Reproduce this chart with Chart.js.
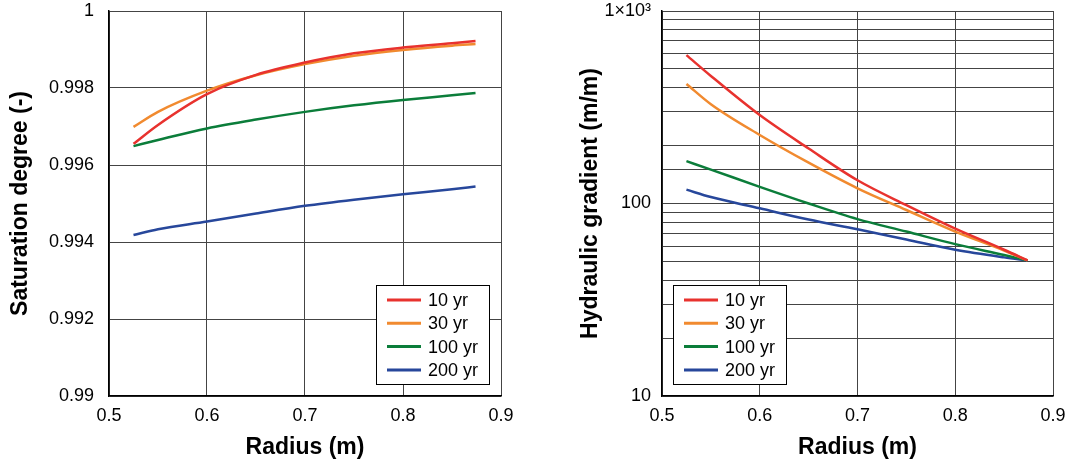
<!DOCTYPE html>
<html>
<head>
<meta charset="utf-8">
<script src="https://cdn.jsdelivr.net/npm/chart.js@4.4.1/dist/chart.umd.min.js"></script>
<style>
  body { margin: 0; background: #fff; }
  #wrap { position: relative; width: 1072px; height: 464px; }
  canvas { position: absolute; top: 0; }
</style>
</head>
<body>
<div id="wrap">
  <canvas id="saturacion" width="536" height="464" style="left:0"></canvas>
  <canvas id="gradiente" width="536" height="464" style="left:536px"></canvas>
</div>
<script>
// radio (m)
const radius = [0.525, 0.55, 0.6, 0.65, 0.7, 0.75, 0.8, 0.85, 0.874];
const seriesLabels = ['10 yr', '30 yr', '100 yr', '200 yr'];
const colors = ['#e8322e', '#f18a2f', '#0b7d3a', '#27479b'];

// grado de saturacion (-)
const sat10 = [0.99655, 0.99704, 0.99784, 0.99834, 0.99866, 0.99890, 0.99905, 0.99916, 0.99922];
const sat30 = [0.99699, 0.99738, 0.99793, 0.99833, 0.99862, 0.99884, 0.99899, 0.99910, 0.99914];
const sat100 = [0.99649, 0.99665, 0.99695, 0.99718, 0.99738, 0.99755, 0.99769, 0.99781, 0.99787];
const sat200 = [0.99418, 0.99433, 0.99453, 0.99474, 0.99494, 0.99510, 0.99524, 0.99537, 0.99544];

// gradiente hidraulico (m/m)
const grad10 = [590, 460, 288, 193, 132, 98, 74, 57.5, 50.6];
const grad30 = [418, 328, 227, 163, 120, 92.5, 71.5, 57, 50.6];
const grad100 = [166, 150, 122, 100, 83, 71.5, 61.5, 54, 50.6];
const grad200 = [118, 108, 94.4, 82.5, 73.5, 65, 57.5, 52.5, 50.6];

const yTicksLeft = [0.99, 0.992, 0.994, 0.996, 0.998, 1];
const xTicks = [0.5, 0.6, 0.7, 0.8, 0.9];

const fam = "'Liberation Sans', Arial, sans-serif";

function mkSets(series) {
  return series.map((s, i) => ({
    label: seriesLabels[i],
    data: radius.map((r, k) => ({ x: r, y: s[k] })),
    borderColor: colors[i],
    backgroundColor: colors[i],
    borderWidth: 2.5,
    pointRadius: 0,
    cubicInterpolationMode: 'monotone',
    fill: false
  }));
}

// leyenda dentro del area del grafico
const boxLegend = {
  id: 'boxLegend',
  afterDraw(chart, args, opts) {
    const ctx = chart.ctx;
    const a = chart.chartArea;
    const w = 113, h = 99;
    const x0 = opts.side === 'right' ? a.right - 12 - w : a.left + 11;
    const y0 = a.bottom - 12 - h;
    ctx.save();
    ctx.fillStyle = '#fff';
    ctx.fillRect(x0, y0, w, h);
    ctx.strokeStyle = '#000';
    ctx.lineWidth = 1;
    ctx.strokeRect(x0 + 0.5, y0 + 0.5, w, h);
    ctx.font = '18px ' + fam;
    ctx.textBaseline = 'middle';
    chart.data.datasets.forEach((ds, i) => {
      const yy = y0 + 15 + i * 23.3;
      ctx.strokeStyle = ds.borderColor;
      ctx.lineWidth = 3;
      ctx.beginPath();
      ctx.moveTo(x0 + 11, yy);
      ctx.lineTo(x0 + 45, yy);
      ctx.stroke();
      ctx.fillStyle = '#000';
      ctx.fillText(ds.label, x0 + 52, yy + 1);
    });
    ctx.restore();
  }
};

function baseX() {
  return {
    type: 'linear', min: 0.5, max: 0.9,
    afterFit: s => { s.height = 68; s.paddingLeft = 0; s.paddingRight = 0; },
    afterBuildTicks: s => { s.ticks = xTicks.map(v => ({ value: v })); },
    grid: { color: '#444', lineWidth: 1, drawTicks: false },
    border: { color: '#000', width: 1.5 },
    ticks: { color: '#000', padding: 9, font: { family: fam, size: 18 },
      callback: v => v.toFixed(1) },
    title: { display: true, text: 'Radius (m)', color: '#000',
      font: { family: fam, size: 23, weight: 'bold' }, padding: { top: 0, bottom: 3 } }
  };
}

function fixY(w) {
  return s => { s.width = w; s.paddingTop = 0; s.paddingBottom = 0; };
}

new Chart(document.getElementById('saturacion'), {
  type: 'line',
  data: { datasets: mkSets([sat10, sat30, sat100, sat200]) },
  options: {
    responsive: false, animation: false, devicePixelRatio: 1,
    layout: { padding: { left: 0, right: 35, top: 11, bottom: 0 } },
    plugins: { legend: { display: false }, tooltip: { enabled: false }, boxLegend: { side: 'right' } },
    scales: {
      x: baseX(),
      y: {
        type: 'linear', min: 0.99, max: 1,
        afterFit: fixY(109),
        afterBuildTicks: s => { s.ticks = yTicksLeft.map(v => ({ value: v })); },
        grid: { color: '#444', lineWidth: 1, drawTicks: false },
        border: { color: '#000', width: 1.5 },
        ticks: { color: '#000', padding: 15, font: { family: fam, size: 18 },
          callback: v => String(Number(v.toFixed(4))) },
        title: { display: true, text: 'Saturation degree (-)', color: '#000',
          font: { family: fam, size: 23, weight: 'bold' }, padding: { top: 7, bottom: 0 } }
      }
    }
  },
  plugins: [boxLegend]
});

new Chart(document.getElementById('gradiente'), {
  type: 'line',
  data: { datasets: mkSets([grad10, grad30, grad100, grad200]) },
  options: {
    responsive: false, animation: false, devicePixelRatio: 1,
    layout: { padding: { left: 0, right: 19, top: 11, bottom: 0 } },
    plugins: { legend: { display: false }, tooltip: { enabled: false }, boxLegend: { side: 'left' } },
    scales: {
      x: baseX(),
      y: {
        type: 'logarithmic', min: 10, max: 1000,
        afterFit: fixY(126),
        grid: { color: '#444', lineWidth: 1, drawTicks: false },
        border: { color: '#000', width: 1.5 },
        ticks: { color: '#000', padding: 11, autoSkip: false, font: { family: fam, size: 18 },
          callback: v => v === 1000 ? '1×10³' : (v === 100 || v === 10 ? String(v) : '') },
        title: { display: true, text: 'Hydraulic gradient (m/m)', color: '#000',
          font: { family: fam, size: 23, weight: 'bold' }, padding: { top: 41, bottom: 0 } }
      }
    }
  },
  plugins: [boxLegend]
});
</script>
</body>
</html>
